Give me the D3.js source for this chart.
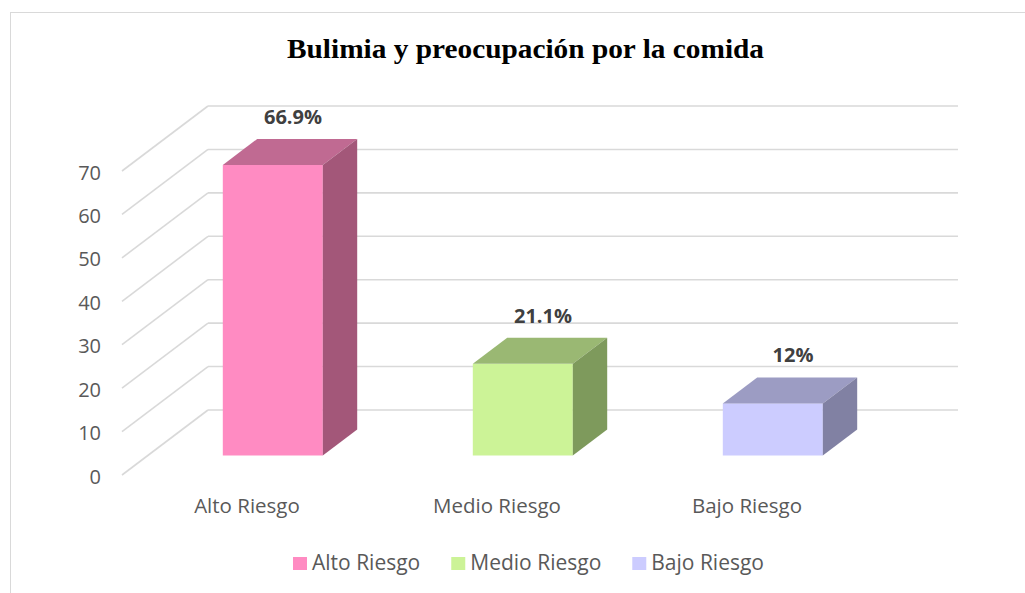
<!DOCTYPE html>
<html>
<head>
<meta charset="utf-8">
<script src="https://cdn.jsdelivr.net/npm/d3@7"></script>
<style>
  html, body { margin: 0; padding: 0; background: #fff; }
  svg { display: block; }
</style>
</head>
<body>
<svg id="chart" width="1025" height="593"></svg>
<script>
// ---- Data ----
const title = "Bulimia y preocupación por la comida";
const categories = ["Alto Riesgo", "Medio Riesgo", "Bajo Riesgo"];
const values = [66.9, 21.1, 12];
const valueLabels = ["66.9%", "21.1%", "12%"];
const yTicks = [0, 10, 20, 30, 40, 50, 60, 70];
const frontColors = ["#FF8BC2", "#CCF397", "#CCCCFF"];
const topColors   = ["#C06A92", "#9AB873", "#9C9CC3"];
const sideColors  = ["#A35779", "#7E9A5C", "#8181A3"];

// ---- Layout ----
const svg = d3.select("#chart");
const font = "'Open Sans', 'Noto Sans', sans-serif";
const textColor = "#595959";
const gridColor = "#d9d9d9";

const DX = 86, DY = -65;          // full depth offset
const d0 = 0.3, d1 = 0.7;         // bar depth span

const x = d3.scaleBand().domain(categories).range([122, 872])
  .paddingInner(0.6).paddingOuter(0.3);
const y = d3.scaleLinear().domain([0, 70]).range([475, 171]);

// border
svg.append("rect").attr("x", 10.5).attr("y", 12.5)
  .attr("width", 1100).attr("height", 700)
  .attr("fill", "none").attr("stroke", gridColor).attr("stroke-width", 1);

// title
svg.append("text").attr("x", 525.5).attr("y", 58)
  .attr("text-anchor", "middle")
  .attr("font-family", "'Liberation Serif', 'Times New Roman', serif")
  .attr("font-weight", "bold").attr("font-size", 28)
  .attr("textLength", 477).attr("lengthAdjust", "spacingAndGlyphs")
  .attr("fill", "#000").text(title);

// grid: back wall and side wall
const grid = svg.append("g");
const xr = x.range();
yTicks.forEach(t => {
  grid.append("line")
    .attr("x1", xr[0] + DX).attr("x2", xr[1] + DX)
    .attr("y1", y(t) + DY).attr("y2", y(t) + DY)
    .attr("stroke", gridColor).attr("stroke-width", 1.6);
  grid.append("line")
    .attr("x1", xr[0]).attr("x2", xr[0] + DX)
    .attr("y1", y(t)).attr("y2", y(t) + DY)
    .attr("stroke", gridColor).attr("stroke-width", 1.6);
});

// y tick labels
svg.append("g").selectAll("text").data(yTicks).join("text")
  .attr("x", 101).attr("y", d => y(d) + 8.6)
  .attr("text-anchor", "end")
  .attr("font-family", font).attr("font-size", 20)
  .attr("fill", textColor).text(d => d);

// bars
const bw = x.bandwidth();
const bdx = (d1 - d0) * DX, bdy = (d1 - d0) * DY;
const bars = svg.append("g").selectAll("g").data(categories).join("g");
bars.each(function(c, i) {
  const g = d3.select(this);
  const x0 = x(c) + d0 * DX, x1 = x0 + bw;
  const yb = y(0) + d0 * DY, yt = y(values[i]) + d0 * DY;
  g.append("rect").attr("x", x0).attr("y", yt).attr("width", bw).attr("height", yb - yt)
    .attr("fill", frontColors[i]);
  g.append("polygon")
    .attr("points", [[x0, yt], [x1, yt], [x1 + bdx, yt + bdy], [x0 + bdx, yt + bdy]].map(p => p.join(",")).join(" "))
    .attr("fill", topColors[i]);
  g.append("polygon")
    .attr("points", [[x1, yt], [x1 + bdx, yt + bdy], [x1 + bdx, yb + bdy], [x1, yb]].map(p => p.join(",")).join(" "))
    .attr("fill", sideColors[i]);
  g.append("text")
    .attr("x", x0 + bw / 2 + bdx / 2 + 3)
    .attr("y", yt + bdy - 15)
    .attr("text-anchor", "middle")
    .attr("font-family", font).attr("font-weight", "bold").attr("font-size", 20)
    .attr("fill", "#404040").text(valueLabels[i]);
});

// category labels
svg.append("g").selectAll("text").data(categories).join("text")
  .attr("x", d => x(d) + bw / 2)
  .attr("y", 513)
  .attr("text-anchor", "middle")
  .attr("font-family", font).attr("font-size", 20.5)
  .attr("fill", textColor).text(d => d);

// legend
const legend = svg.append("g");
const items = legend.selectAll("g").data(categories).join("g");
items.append("rect").attr("width", 14).attr("height", 13).attr("y", 557)
  .attr("fill", (d, i) => frontColors[i]);
items.append("text").attr("x", 19).attr("y", 569.5)
  .attr("font-family", font).attr("font-size", 21)
  .attr("fill", textColor).text(d => d);
let widths = [];
items.each(function() { widths.push(d3.select(this).select("text").node().getComputedTextLength() + 19); });
const gap = 31;
const total = d3.sum(widths) + gap * (widths.length - 1);
let cx = 528.5 - total / 2;
items.each(function(d, i) {
  d3.select(this).attr("transform", `translate(${cx},0)`);
  cx += widths[i] + gap;
});
</script>
</body>
</html>
